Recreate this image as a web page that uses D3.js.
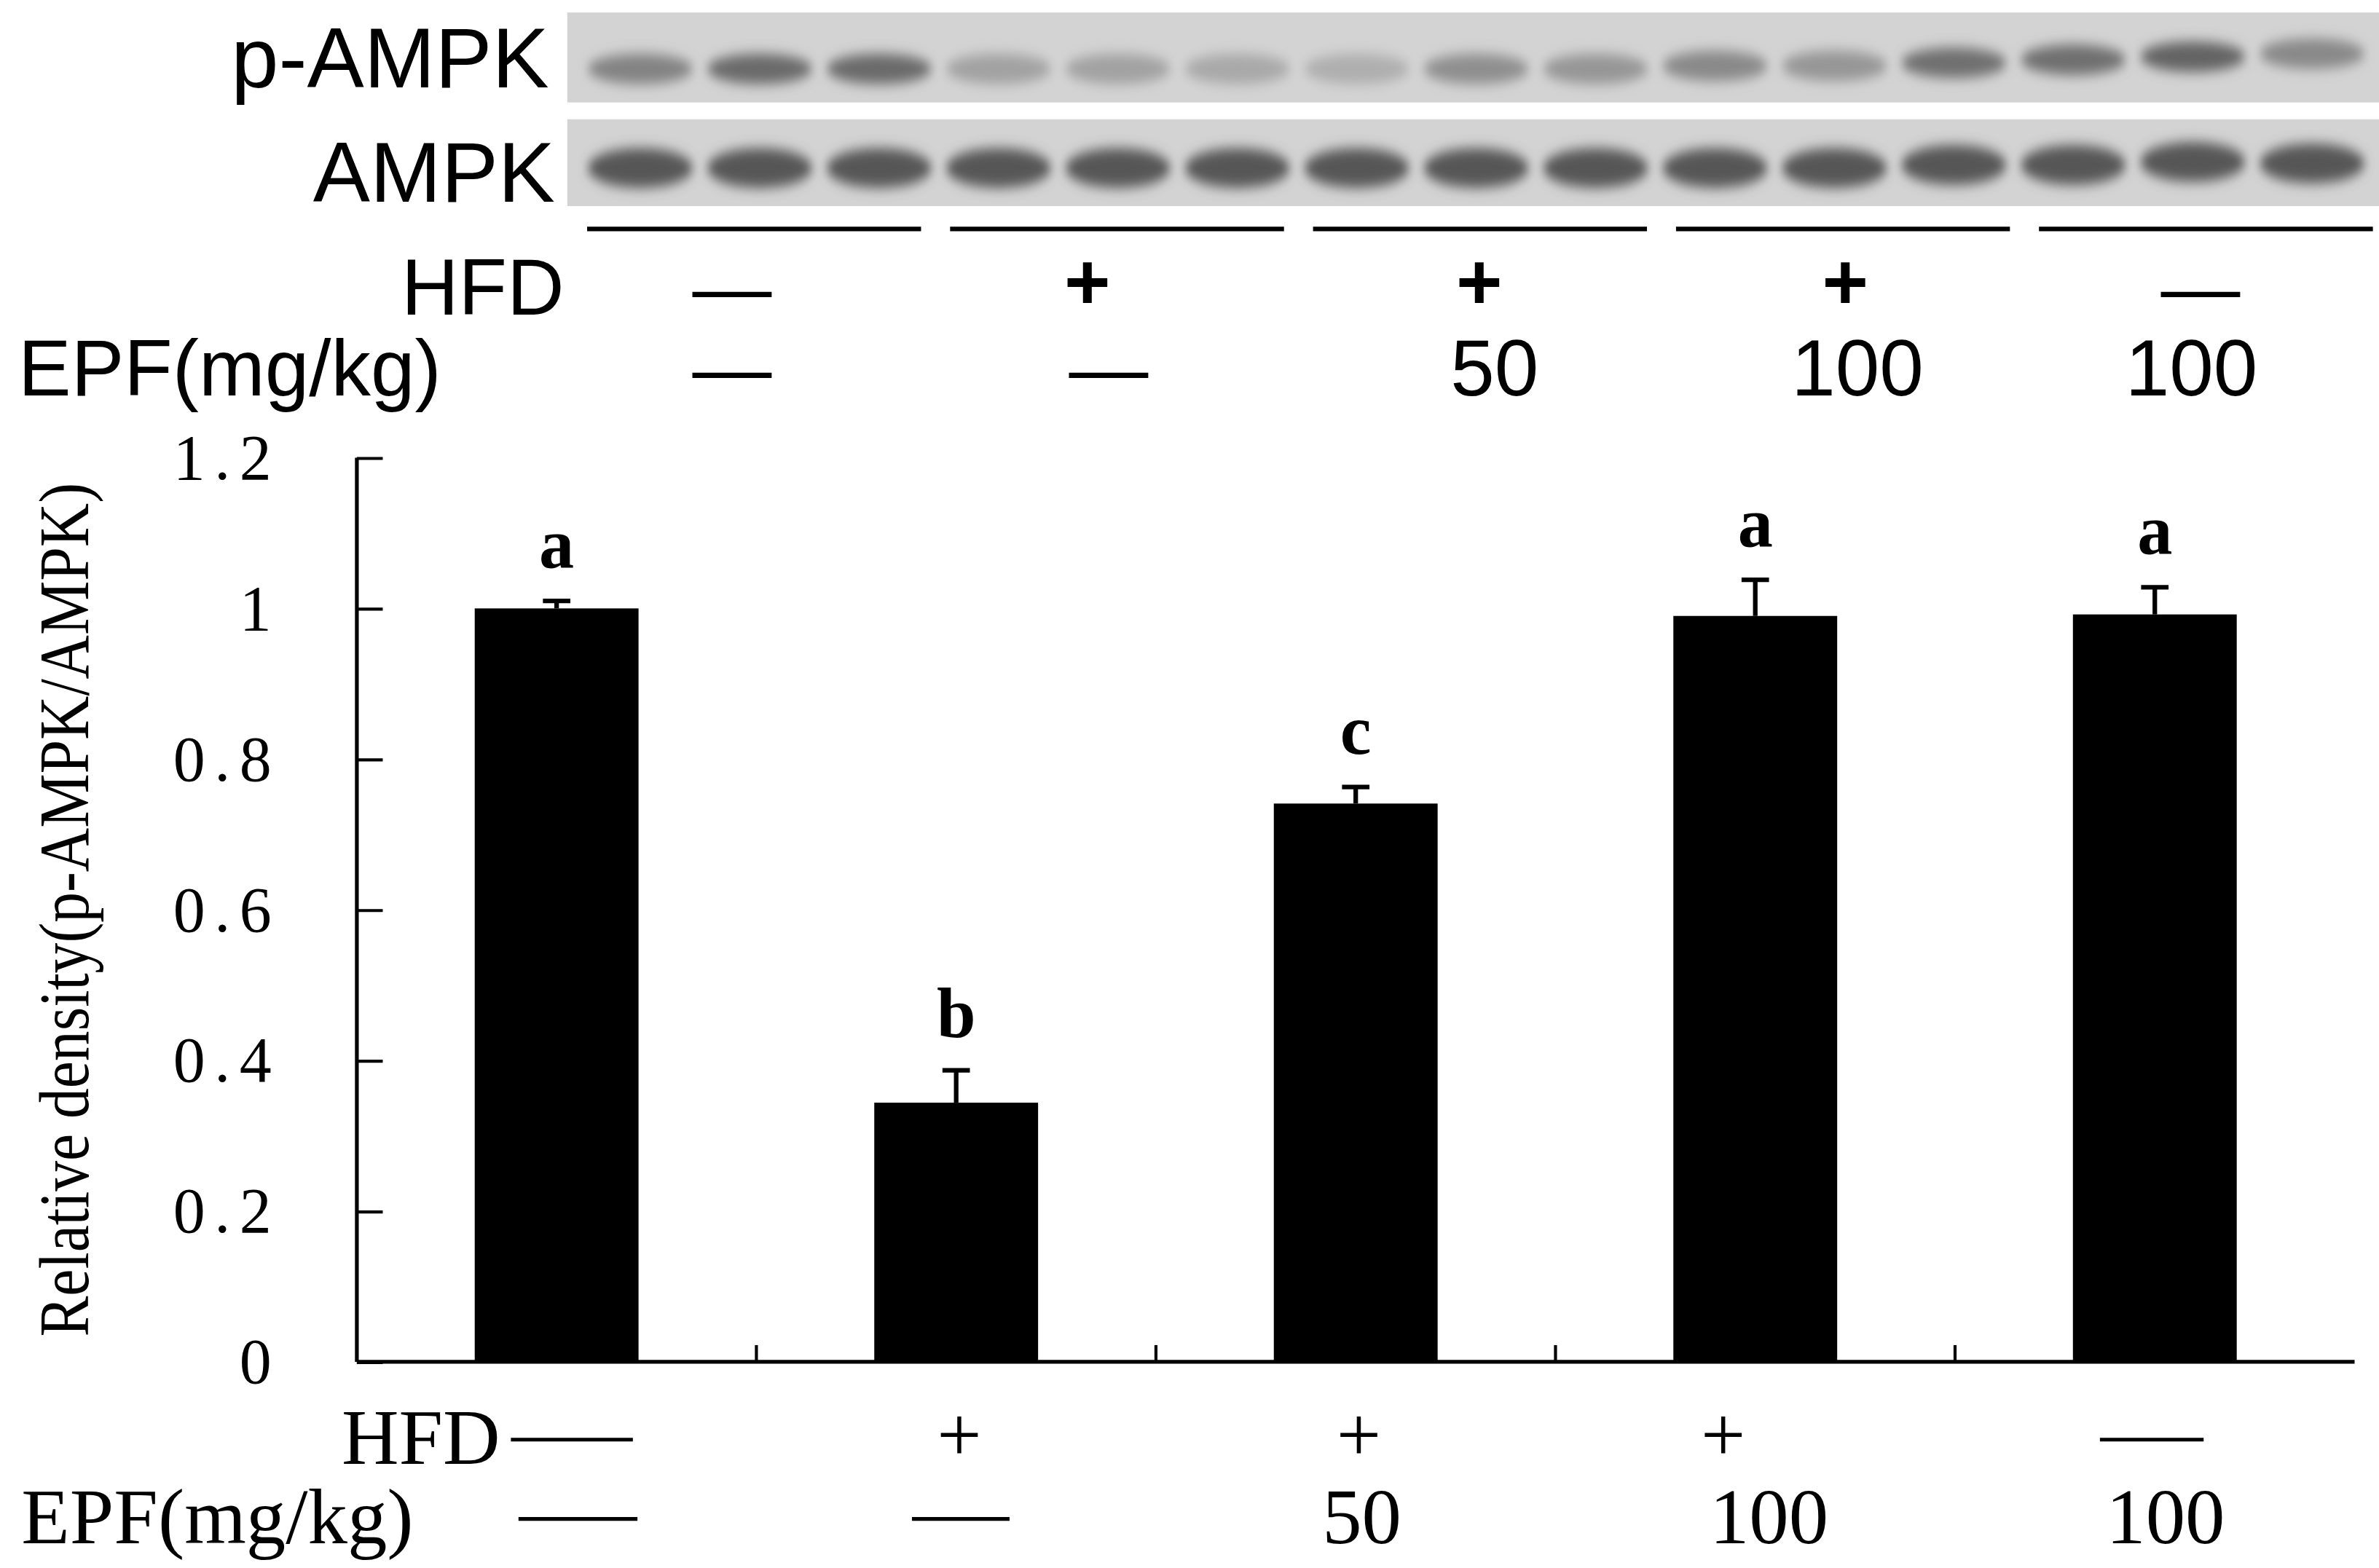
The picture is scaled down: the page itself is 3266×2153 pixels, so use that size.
<!DOCTYPE html>
<html>
<head>
<script src="https://cdn.jsdelivr.net/npm/d3@7"></script>
<style>
  body { margin: 0; background: #fff; }
  .sans { font-family: "Liberation Sans Narrow", "Liberation Sans", Arial, sans-serif; }
  .serif { font-family: "Liberation Serif", "Times New Roman", serif; }
</style>
</head>
<body>
<script>
var groups = ["g1", "g2", "g3", "g4", "g5"];
var values = [1.0, 0.344, 0.741, 0.99, 0.992];
var errors = [0.01, 0.043, 0.022, 0.048, 0.036];
var letters = ["a", "b", "c", "a", "a"];
var hfdLabels = ["—", "+", "+", "+", "—"];
var epfLabels = ["—", "—", "50", "100", "100"];
var yTicks = [0, 0.2, 0.4, 0.6, 0.8, 1, 1.2];
var pAmpkBand = [0.55, 0.75, 0.75, 0.3, 0.3, 0.25, 0.2, 0.45, 0.4, 0.5, 0.4, 0.7, 0.7, 0.8, 0.5];
var pAmpkShift = [0, 0, 0, 0, 0, 0, 0, 0, 0, -2, -2, -4, -6, -8, -10];
var ampkBand = [0.9, 0.9, 0.9, 0.9, 0.9, 0.9, 0.9, 0.9, 0.9, 0.9, 0.9, 0.9, 0.9, 0.9, 0.9];
var ampkShift = [0, 0, 0, 0, 0, 0, 0, 0, 0, 0, 0, -2, -2, -4, -3];

var W = 1560, H = 1028;
var svg = d3.select("body").append("svg")
  .attr("width", 3266).attr("height", 2153)
  .attr("viewBox", "0 0 " + W + " " + H);

var defs = svg.append("defs");
defs.append("filter").attr("id", "blur").attr("x", "-30%").attr("y", "-60%").attr("width", "160%").attr("height", "220%")
  .append("feGaussianBlur").attr("stdDeviation", "3 4");

// ---- blot ----
var lane = d3.scaleBand().domain(d3.range(15)).range([376, 1560]).padding(0.12);
var shade = d3.scaleLinear().domain([0, 1]).range(["#c8c8c8", "#4a4a4a"]);

function blot(y0, h, bandY, bandH, inten, shift) {
  svg.append("rect").attr("x", 372).attr("y", y0).attr("width", W - 372).attr("height", h).attr("fill", "#d3d3d3");
  var g = svg.append("g").attr("filter", "url(#blur)");
  g.selectAll("ellipse").data(inten).enter().append("ellipse")
    .attr("cx", function (d, i) { return lane(i) + lane.bandwidth() / 2; })
    .attr("cy", function (d, i) { return bandY + shift[i]; })
    .attr("rx", lane.bandwidth() / 2)
    .attr("ry", bandH)
    .attr("fill", function (d) { return shade(d); });
}
blot(8, 59, 45, 10, pAmpkBand, pAmpkShift);
blot(78, 57, 110, 13, ampkBand, ampkShift);

svg.append("text").attr("class", "sans").attr("x", 360).attr("y", 57).attr("text-anchor", "end")
  .attr("font-size", 56).text("p-AMPK");
svg.append("text").attr("class", "sans").attr("x", 364).attr("y", 132).attr("text-anchor", "end")
  .attr("font-size", 56).text("AMPK");

var seg = d3.scaleBand().domain(groups).range([385, 1556]).paddingInner(0.08);
svg.selectAll("line.sep").data(groups).enter().append("line")
  .attr("x1", function (d) { return seg(d); })
  .attr("x2", function (d) { return seg(d) + seg.bandwidth(); })
  .attr("y1", 150).attr("y2", 150).attr("stroke", "#000").attr("stroke-width", 3);

var topX = [480, 713, 970, 1210, 1443];
var topX2 = [480, 727, 980, 1218, 1437];
svg.append("text").attr("class", "sans").attr("x", 370).attr("y", 206).attr("text-anchor", "end")
  .attr("font-size", 52).text("HFD");
svg.append("text").attr("class", "sans").attr("x", 12).attr("y", 259)
  .attr("font-size", 52).text("EPF(mg/kg)");
svg.selectAll("text.th").data(hfdLabels).enter().append("text").attr("class", "sans")
  .attr("x", function (d, i) { return topX[i]; }).attr("y", function (d) { return d === "+" ? 203 : 206; })
  .attr("text-anchor", "middle").attr("font-size", 52).attr("font-weight", d => d === "+" ? "bold" : null)
  .text(function (d) { return d; });
svg.selectAll("text.te").data(epfLabels).enter().append("text").attr("class", "sans")
  .attr("x", function (d, i) { return topX2[i]; }).attr("y", 259)
  .attr("text-anchor", "middle").attr("font-size", 52)
  .text(function (d) { return d; });

// ---- bar chart ----
var x = d3.scaleBand().domain(groups).range([234, 1544]).paddingInner(0.59).paddingOuter(0.295);
var y = d3.scaleLinear().domain([0, 1.2]).range([893, 300]);

var chart = svg.append("g");
var yAxis = d3.axisLeft(y).tickValues(yTicks).tickSize(-17).tickFormat("");
chart.append("g").attr("transform", "translate(234,0)").call(yAxis)
  .call(function (g) { g.select(".domain").attr("stroke-width", 2.5).attr("d", "M0," + y(1.2) + "V" + y(0)); })
  .call(function (g) { g.selectAll(".tick line").attr("stroke-width", 2); });

var bounds = d3.range(1, groups.length).map(function (i) { return 234 + i * (1544 - 234) / groups.length; });
chart.append("line").attr("x1", 234).attr("x2", 1544).attr("y1", y(0)).attr("y2", y(0))
  .attr("stroke", "#000").attr("stroke-width", 2.5);
chart.selectAll("line.xt").data(bounds).enter().append("line")
  .attr("x1", d => d).attr("x2", d => d).attr("y1", y(0)).attr("y2", y(0) - 11)
  .attr("stroke", "#000").attr("stroke-width", 2);

chart.selectAll("text.yt").data(yTicks).enter().append("text").attr("class", "serif")
  .attr("x", 184).attr("y", function (d) { return y(d) + 14; }).attr("text-anchor", "end")
  .attr("font-size", 42).attr("letter-spacing", 6)
  .text(function (d) { return d === 0 || d === 1 ? d : d.toFixed(1); });

chart.append("text").attr("class", "serif")
  .attr("transform", "translate(58," + ((y(0) + y(1.2)) / 2) + ") rotate(-90)")
  .attr("text-anchor", "middle").attr("font-size", 46)
  .attr("textLength", 560).attr("lengthAdjust", "spacingAndGlyphs")
  .text("Relative density(p-AMPK/AMPK)");

chart.selectAll("line.err").data(values).enter().append("line")
  .attr("x1", (d, i) => x(groups[i]) + x.bandwidth() / 2).attr("x2", (d, i) => x(groups[i]) + x.bandwidth() / 2)
  .attr("y1", d => y(d)).attr("y2", (d, i) => y(d + errors[i])).attr("stroke", "#000").attr("stroke-width", 3);
chart.selectAll("line.cap").data(values).enter().append("line")
  .attr("x1", (d, i) => x(groups[i]) + x.bandwidth() / 2 - 9).attr("x2", (d, i) => x(groups[i]) + x.bandwidth() / 2 + 9)
  .attr("y1", (d, i) => y(d + errors[i])).attr("y2", (d, i) => y(d + errors[i])).attr("stroke", "#000").attr("stroke-width", 3);

chart.selectAll("rect.bar").data(values).enter().append("rect")
  .attr("x", (d, i) => x(groups[i])).attr("y", d => y(d))
  .attr("width", x.bandwidth()).attr("height", d => y(0) - y(d)).attr("fill", "#000");

chart.selectAll("text.let").data(letters).enter().append("text").attr("class", "serif")
  .attr("x", (d, i) => x(groups[i]) + x.bandwidth() / 2)
  .attr("y", (d, i) => y(values[i] + errors[i]) - 22)
  .attr("text-anchor", "middle").attr("font-size", 46).attr("font-weight", "bold").text(d => d);

// bottom treatment labels
svg.append("text").attr("class", "serif").attr("x", 328).attr("y", 960).attr("text-anchor", "end")
  .attr("font-size", 52).text("HFD");
svg.append("text").attr("class", "serif").attr("x", 14).attr("y", 1012)
  .attr("font-size", 52).text("EPF(mg/kg)");
var cx = function (i) { return x(groups[i]) + x.bandwidth() / 2; };
var botH = [[335, 415], null, null, null, [1377, 1445]];
var botE = [[340, 418], [598, 662], null, null, null];
hfdLabels.forEach(function (d, i) {
  if (d === "+") svg.append("text").attr("class", "serif").attr("x", i === 3 ? 1130 : cx(i) + 2).attr("y", 958)
    .attr("text-anchor", "middle").attr("font-size", 52).text("+");
  else svg.append("line").attr("x1", botH[i][0]).attr("x2", botH[i][1]).attr("y1", 944).attr("y2", 944)
    .attr("stroke", "#000").attr("stroke-width", 2.5);
});
var botEx = [0, 0, 893, 1160, 1420];
epfLabels.forEach(function (d, i) {
  if (d !== "—") svg.append("text").attr("class", "serif").attr("x", botEx[i]).attr("y", 1012)
    .attr("text-anchor", "middle").attr("font-size", 52).text(d);
  else svg.append("line").attr("x1", botE[i][0]).attr("x2", botE[i][1]).attr("y1", 996).attr("y2", 996)
    .attr("stroke", "#000").attr("stroke-width", 2.5);
});
</script>
</body>
</html>
